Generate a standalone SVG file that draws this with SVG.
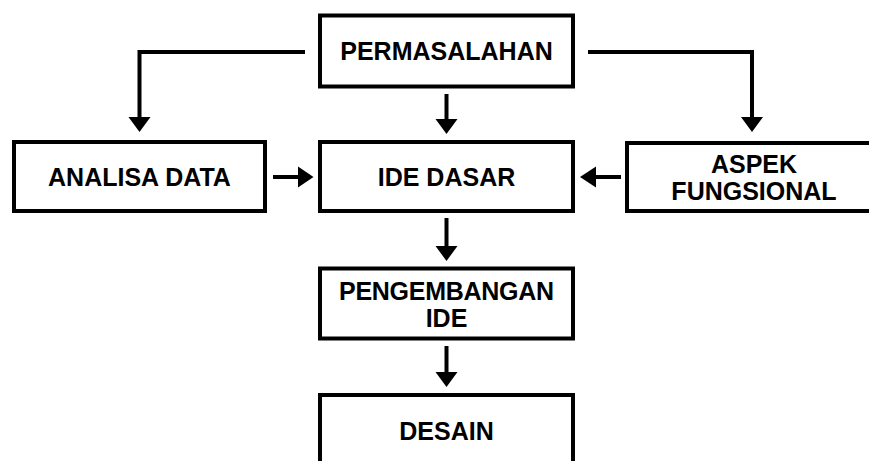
<svg xmlns="http://www.w3.org/2000/svg" width="869" height="461" viewBox="0 0 869 461">
<style>
.box{fill:#fff;stroke:#000;stroke-width:4}
.lbl{font-family:"Liberation Sans",Arial,sans-serif;font-weight:bold;font-size:25px;fill:#000;text-anchor:middle}
.ln{fill:none;stroke:#000;stroke-width:4}
.ah{fill:#000}
</style>
<rect width="869" height="461" fill="#fff"/>
<g id="connectors">
<path class="ln" d="M305,52 H139.5 V119"/>
<polygon class="ah" points="128.5,117 150.5,117 139.5,132"/>
<path class="ln" d="M446.5,94 V121"/>
<polygon class="ah" points="435.5,119 457.5,119 446.5,134"/>
<path class="ln" d="M588,52 H752 V119"/>
<polygon class="ah" points="741,117 763,117 752,132"/>
<path class="ln" d="M273,177 H300"/>
<polygon class="ah" points="298,166.5 298,187.5 313.5,177"/>
<path class="ln" d="M621,177 H594"/>
<polygon class="ah" points="596,166.5 596,187.5 580,177"/>
<path class="ln" d="M446.5,218 V248"/>
<polygon class="ah" points="435.5,246 457.5,246 446.5,261"/>
<path class="ln" d="M446.5,346 V374"/>
<polygon class="ah" points="435.5,372 457.5,372 446.5,387"/>
</g>
<g id="permasalahan">
<rect class="box" x="320" y="15.5" width="253" height="71"/>
<text class="lbl" x="446.5" y="59.5">PERMASALAHAN</text>
</g>
<g id="analisa-data">
<rect class="box" x="14" y="142" width="251" height="69"/>
<text class="lbl" x="139.5" y="186">ANALISA DATA</text>
</g>
<g id="ide-dasar">
<rect class="box" x="320" y="142" width="253" height="69"/>
<text class="lbl" x="446.5" y="185.5">IDE DASAR</text>
</g>
<g id="aspek-fungsional">
<rect class="box" x="627" y="143" width="260" height="68"/>
<text class="lbl" x="754" y="173">ASPEK</text>
<text class="lbl" x="754" y="200">FUNGSIONAL</text>
</g>
<g id="pengembangan-ide">
<rect class="box" x="320" y="268.5" width="253" height="70"/>
<text class="lbl" x="446.5" y="299.5" textLength="215" lengthAdjust="spacing">PENGEMBANGAN</text>
<text class="lbl" x="446.5" y="326.5">IDE</text>
</g>
<g id="desain">
<rect class="box" x="320" y="395" width="253" height="100"/>
<text class="lbl" x="446.5" y="439.5">DESAIN</text>
</g>
</svg>
